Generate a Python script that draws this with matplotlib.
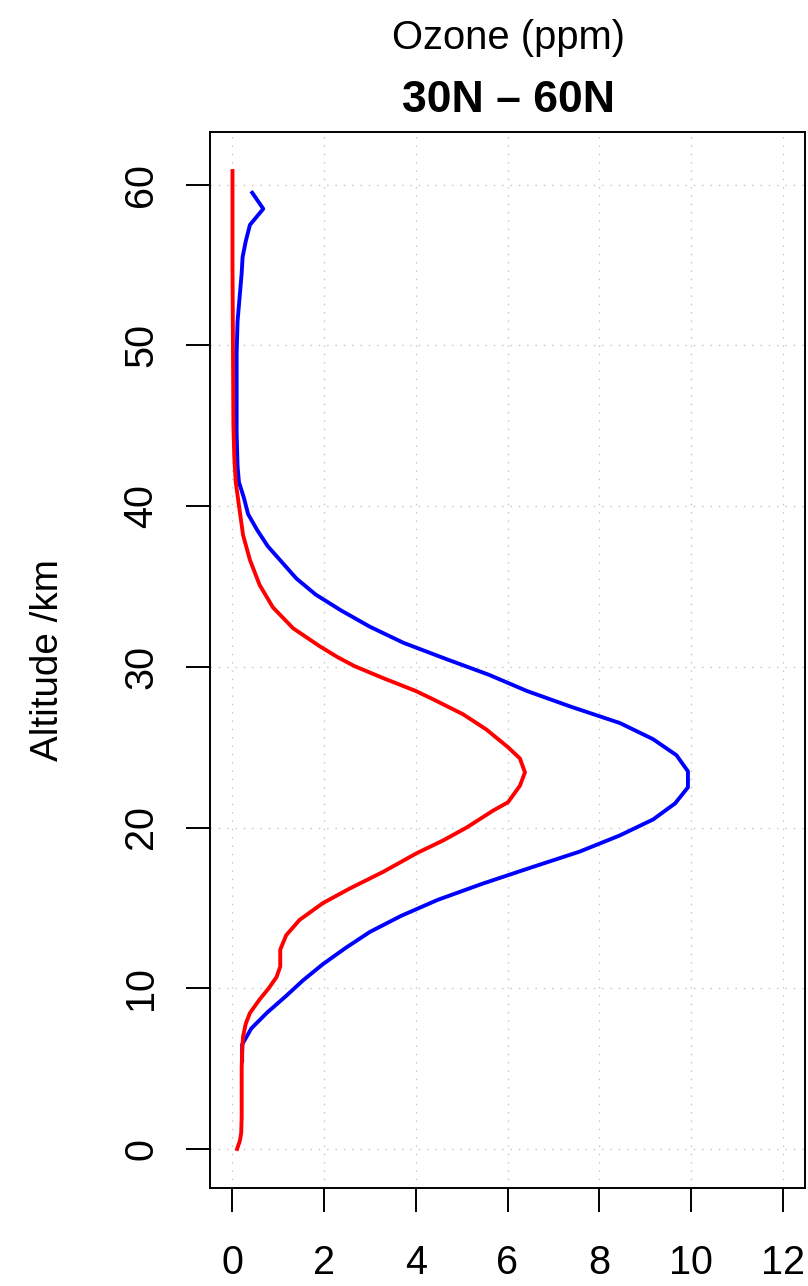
import matplotlib
matplotlib.use('Agg')
import matplotlib.pyplot as plt

plt.rcParams['font.family'] = ['Liberation Sans', 'DejaVu Sans']

# blue profile (1 km layers, mid-points)
blue_alt = [5.5, 6.5, 7.5, 8.5, 9.5, 10.5, 11.5, 12.5, 13.5, 14.5, 15.5, 16.5,
            17.5, 18.5, 19.5, 20.5, 21.5, 22.5, 23.5, 24.5, 25.5, 26.5, 27.5,
            28.5, 29.5, 30.5, 31.5, 32.5, 33.5, 34.5, 35.5, 36.5, 37.5, 38.5,
            39.5, 40.5, 41.5, 42.5, 43.5, 44.5, 45.5, 46.5, 47.5, 48.5, 49.5,
            50.5, 51.5, 52.5, 53.5, 54.5, 55.5, 56.5, 57.5, 58.5, 59.5]
blue_o3 = [0.22, 0.22, 0.42, 0.77, 1.17, 1.55, 1.98, 2.47, 3.0, 3.68, 4.48, 5.45,
           6.5, 7.57, 8.44, 9.17, 9.65, 9.93, 9.93, 9.68, 9.17, 8.45, 7.4,
           6.42, 5.6, 4.65, 3.73, 3.0, 2.38, 1.82, 1.40, 1.09, 0.78, 0.55,
           0.35, 0.26, 0.15, 0.12, 0.11, 0.10, 0.10, 0.10, 0.10, 0.10, 0.10,
           0.11, 0.12, 0.15, 0.18, 0.21, 0.23, 0.30, 0.39, 0.68, 0.44]

# red profile
red_alt = [0, 0.5, 1, 2, 3, 4, 5, 6, 7, 7.8, 8.46, 9.3, 10, 10.7, 11.35, 12.4,
           13.3, 14.25, 15.3, 16.2, 17.24, 18.4, 19.2, 20.0, 21.06, 21.57, 22.6,
           23.43, 24.3, 25.0, 26.1, 27.05, 27.98, 28.5, 29.3, 30.04, 30.6, 31.28,
           32.4, 33.7, 35.1, 36.65, 38.2, 39.65, 41.5, 43, 45, 50, 55, 60.85]
red_o3 = [0.11, 0.17, 0.20, 0.21, 0.21, 0.21, 0.21, 0.22, 0.24, 0.30, 0.39, 0.60,
          0.80, 0.97, 1.05, 1.05, 1.18, 1.47, 1.98, 2.56, 3.29, 4.02, 4.60, 5.11,
          5.69, 6.01, 6.27, 6.38, 6.27, 6.01, 5.54, 5.03, 4.38, 4.00, 3.29, 2.67,
          2.30, 1.91, 1.33, 0.89, 0.60, 0.39, 0.24, 0.17, 0.08, 0.05, 0.03, 0.02,
          0.01, 0.01]

x_ticks = [0, 2, 4, 6, 8, 10, 12]
y_ticks = [0, 10, 20, 30, 40, 50, 60]

W, H = 808, 1286
fig = plt.figure(figsize=(W / 100, H / 100), dpi=100)
ax = fig.add_axes([210 / W, 1 - 1188 / H, (805 - 210) / W, (1188 - 132) / H])

for v in x_ticks:
    ax.axvline(v, color='#c4c4c4', lw=1.0, ls=(0, (1, 5)), zorder=0)
for v in y_ticks:
    ax.axhline(v, color='#c4c4c4', lw=1.0, ls=(0, (1, 5)), zorder=0)

ax.plot(blue_o3, blue_alt, color='blue', lw=2.8, solid_joinstyle='round', zorder=2)
ax.plot(red_o3, red_alt, color='red', lw=2.8, solid_joinstyle='round', zorder=3)

ax.set_xlim(-0.48, 12.48)
ax.set_ylim(-2.43, 63.28)
ax.set_xticks(x_ticks)
ax.set_yticks(y_ticks)
ax.tick_params(axis='both', direction='out', length=17, width=1.4, labelsize=28.5)
ax.tick_params(axis='x', pad=23)
ax.tick_params(axis='y', pad=19, labelrotation=90)
for lab in ax.get_yticklabels():
    lab.set_verticalalignment('center')
for s in ax.spines.values():
    s.set_linewidth(1.4)

fig.text(508 / W, 1 - 38 / H, 'Ozone (ppm)', ha='center', va='center', fontsize=28.8)
fig.text(508 / W, 1 - 100 / H, '30N \u2013 60N', ha='center', va='center',
         fontsize=32, fontweight='bold')
fig.text(48 / W, 1 - 660 / H, 'Altitude /km', ha='center', va='center',
         rotation=90, fontsize=27.8)

fig.savefig('out.png', dpi=100)
